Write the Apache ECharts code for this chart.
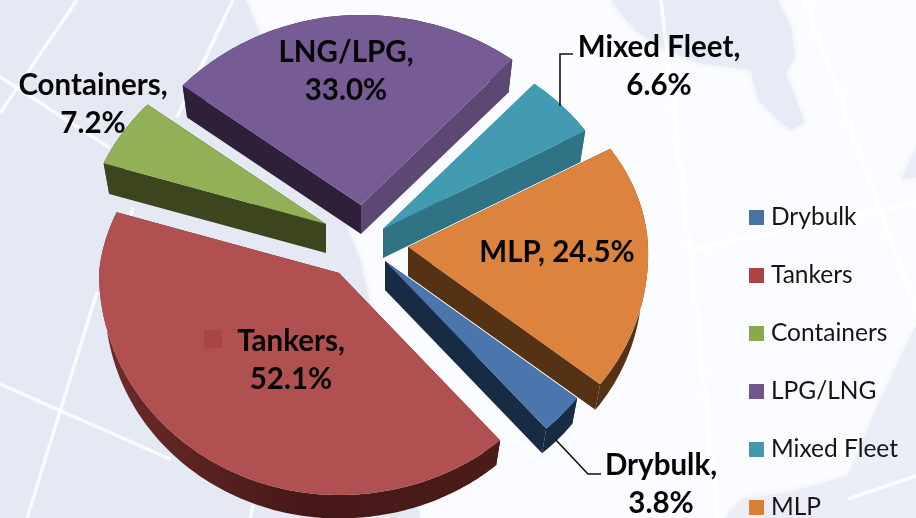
<!DOCTYPE html>
<html>
<head>
<meta charset="utf-8">
<style>html,body{margin:0;padding:0;background:#fbfcff}#c{width:916px;height:518px}</style>
<script src="https://cdn.jsdelivr.net/npm/echarts@6/dist/echarts.min.js"></script>
</head>
<body>
<div id="c"></div>
<script>
// data, clockwise from the first slice
const categories = ['Drybulk', 'Tankers', 'Containers', 'LPG/LNG', 'Mixed Fleet', 'MLP'];
const values = [3.8, 52.1, 7.2, 33.0, 6.6, 24.5];
const labelNames = ['Drybulk', 'Tankers', 'Containers', 'LNG/LPG', 'Mixed Fleet', 'MLP'];

// styles
const topColors = ['#4a76ad', '#b05050', '#92b056', '#775b95', '#429bb2', '#dc843e'];
const legendColors = ['#4672a8', '#a84444', '#8aa84e', '#72578f', '#4097ae', '#d98035'];
const wallStart = ['#172b45', '#4a1b19', '#3c451e', '#2d2038', '#2f7384', '#563215'];
const wallEnd = ['#172b45', '#4a1b19', '#3c451e', '#5d4773', '#2f7384', '#563215'];
const rimColors = ['#172b45', '#5a2221', '#3c451e', '#2d2038', '#2f7384', '#563215'];
const drawOrder = [5, 6, 3, 1, 2, 4];
const apexX = [385, 339, 326, 361, 383, 408];
const apexY = [261, 273, 224, 205, 229, 247];
const labelX = [661, 291, 93, 346, 659, 557];
const labelY = [484, 360, 104, 71, 66, 252];
const firstAngle = -38.2, depth = 29, bottomScale = 0.975;

const total = values.reduce((a, b) => a + b, 0);
function rimOffset(deg0) {
  const c0 = Math.cos(deg0 * Math.PI / 180);
  const deg = deg0 - 2.2 * Math.max(0, Math.min(1, 0.5 - c0));
  const t = deg * Math.PI / 180, s = Math.sin(t), c = Math.cos(t);
  let f = 1;
  if (s > 0) f = c < 0 ? 1 - 0.07 * s : 1 - 0.03 * s;
  else if (c > 0) f = 1 - 0.03 * s;
  const ry = s > 0 ? 190 : 222;
  return [240 * f * c, -ry * s];
}
function renderSlice(i) {
  return function (params, api) {
    const v = api.value(0);
    let from = firstAngle;
    for (let k = 0; k < i; k++) from -= values[k] / total * 360;
    const to = from - v / total * 360;
    const ax = apexX[i], ay = apexY[i];
    const topRim = [], botRim = [];
    const steps = Math.ceil(from - to);
    for (let k = 0; k <= steps; k++) {
      const o = rimOffset(from + (to - from) * k / steps);
      topRim.push([ax + o[0], ay + o[1]]);
      botRim.push([ax + o[0] * bottomScale, ay + depth + o[1] * bottomScale]);
    }
    const aTop = [ax, ay], aBot = [ax, ay + depth];
    const n = topRim.length - 1;
    const rimFill = i === 1
      ? new echarts.graphic.LinearGradient(0, 0, 1, 0, [{offset: 0, color: '#6e2c2a'}, {offset: 0.5, color: '#461918'}, {offset: 1, color: '#4a1b19'}])
      : rimColors[i];
    const kids = [
      {type: 'polygon', shape: {points: topRim.concat(botRim.slice().reverse())}, style: {fill: rimFill}},
      {type: 'polygon', shape: {points: [aTop, topRim[0], botRim[0], aBot]}, style: {fill: wallStart[i]}},
      {type: 'polygon', shape: {points: [aTop, topRim[n], botRim[n], aBot]}, style: {fill: wallEnd[i]}},
      {type: 'polygon', shape: {points: [aTop].concat(topRim)}, style: {fill: topColors[i]}}
    ];
    const txt = labelNames[i] + ',' + (i === 5 ? ' ' : '\n') + v.toFixed(1) + '%';
    kids.push({type: 'text', z2: 10, style: {text: txt, x: labelX[i], y: labelY[i], align: 'center', verticalAlign: 'middle',
      fill: '#050505', font: 'bold 29.5px Lato', lineHeight: 38}});
    if (i === 1) kids.push({type: 'rect', z2: 9, shape: {x: 204, y: 330, width: 18, height: 18}, style: {fill: '#a84646'}});
    if (i === 4) kids.push({type: 'polyline', z2: 9, shape: {points: [[560, 106], [560, 54], [573, 54]]}, style: {stroke: '#111', lineWidth: 1.6, fill: 'none'}});
    if (i === 0) kids.push({type: 'polyline', z2: 9, shape: {points: [[555, 439], [588, 474], [601, 474]]}, style: {stroke: '#111', lineWidth: 1.6, fill: 'none'}});
    return {type: 'group', children: kids};
  };
}

const land = [
  [[0,0],[246,0],[262,40],[300,110],[360,260],[420,518],[0,518]],
  [[611,0],[621,13],[635,30],[665,50],[698,63],[751,70],[758,100],[778,120],[791,130],[805,123],[791,87],[785,73],[795,57],[791,27],[778,0]],
  [[725,518],[741,499],[791,492],[848,476],[878,405],[916,325],[916,518]],
  [[916,147],[901,180],[916,177]]
];
const landColors = ['#e5e9f4', '#e7ebf5', '#ebeef7', '#ebeef7'];
const grid = [
  [[77,0],[0,113]], [[0,77],[110,148]], [[233,0],[177,117]], [[97,292],[27,518]], [[0,384],[170,459]],
  [[661,0],[691,259],[718,518]], [[805,0],[898,259],[916,310]], [[691,250],[916,203]], [[848,499],[916,476]], [[133,207],[128,225]], [[253,505],[250,518]]
];
const bg = [{type: 'rect', z: -12, shape: {x: 0, y: 0, width: 916, height: 518}, style: {fill: '#fbfcff'}}]
  .concat(land.map((p, i) => ({type: 'polygon', z: -11, shape: {points: p}, style: {fill: landColors[i], shadowBlur: 6, shadowColor: landColors[i]}})))
  .concat(grid.map(p => ({type: 'polyline', z: -10, shape: {points: p}, style: {stroke: '#ffffff', opacity: 0.8, lineWidth: 3.5, fill: 'none'}})));

const chart = echarts.init(document.getElementById('c'), null, {renderer: 'canvas'});
chart.setOption({
  animation: false,
  graphic: {elements: bg},
  legend: {
    data: categories, orient: 'vertical', left: 744, top: 200, height: 400, itemWidth: 15, itemHeight: 15, itemGap: 33,
    icon: 'rect', selectedMode: false,
    textStyle: {fontFamily: 'Lato', fontSize: 24.5, color: '#151515', padding: [0, 0, 0, 2]}
  },
  series: categories.map((name, i) => ({
    type: 'custom', name, coordinateSystem: 'none', z: 2 + drawOrder[i],
    itemStyle: {color: legendColors[i]},
    data: [[values[i]]],
    renderItem: renderSlice(i),
    silent: true
  }))
});
</script>
</body>
</html>
